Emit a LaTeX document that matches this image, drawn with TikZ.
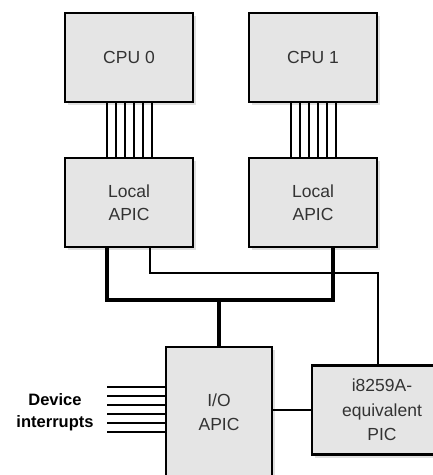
\documentclass[tikz,border=0pt]{standalone}
\usepackage{fontspec}
\setmainfont{Liberation Sans}
\usetikzlibrary{shadows}
\tikzset{
  unit box/.style={
    draw,
    line width=2.3pt,
    fill=black!10,
    align=center,
    text=black!80,
    font=\fontsize{17.5}{23.5}\selectfont,
    drop shadow={shadow xshift=3pt, shadow yshift=-3pt, fill=black!12, opacity=1},
  },
  wire/.style={line width=2pt},
  bus line/.style={line width=4.8pt, line join=miter},
}

\begin{document}
\begin{tikzpicture}[x=1pt, y=-1pt]
        \clip (0,0) rectangle (433,475);
        \fill[white] (0,0) rectangle (433,475);

        \node[unit box, minimum width=128pt, minimum height=89pt] (cpu0) at (129,57.5) {CPU 0};
        \node[unit box, minimum width=128pt, minimum height=89pt] (cpu1) at (313,57.5) {CPU 1};
        \node[unit box, minimum width=128pt, minimum height=89pt] (lapic0) at (129,202.5) {Local\\APIC};
        \node[unit box, minimum width=128pt, minimum height=89pt] (lapic1) at (313,202.5) {Local\\APIC};
        \node[unit box, minimum width=106pt, minimum height=130pt] (ioapic) at (219,412) {I/O\\APIC};
        \node[unit box, minimum width=140pt, minimum height=89pt, font=\fontsize{17.5}{24.5}\selectfont] (pic) at (382,410) {i8259A-\\equivalent\\PIC};
        \node[align=center, font=\bfseries\fontsize{16.5}{22}\selectfont] (devs) at (55,412) {Device\\interrupts};

        % CPU to local APIC bundles
        \foreach \dx in {-22.5,-13.5,-4.5,4.5,13.5,22.5} {
          \draw[wire] ([xshift=\dx]cpu0.south) -- ([xshift=\dx]lapic0.north);
          \draw[wire] ([xshift=\dx]cpu1.south) -- ([xshift=\dx]lapic1.north);
        }

        % APIC bus
        \coordinate (bus) at (219,300);
        \draw[bus line] ([xshift=-22]lapic0.south) -- ([xshift=-22]lapic0.south |- bus)
                     -- ([xshift=20]lapic1.south |- bus) -- ([xshift=20]lapic1.south);
        \draw[bus line] (ioapic.north) -- (ioapic.north |- bus);

        % PIC line
        \coordinate (ctl) at (0,273);
        \draw[wire] ([xshift=21]lapic0.south) |- ([xshift=-4]pic.north |- ctl) -- ([xshift=-4]pic.north);
        \draw[wire] (pic.west) -- (pic.west -| ioapic.east);

        % device interrupt lines
        \foreach \y [count=\i] in {387,396,405,414,423,432} {
          \coordinate (irq\i) at (107,\y);
          \draw[wire] (irq\i) -- (irq\i -| ioapic.west);
        }
      \end{tikzpicture}
\end{document}
